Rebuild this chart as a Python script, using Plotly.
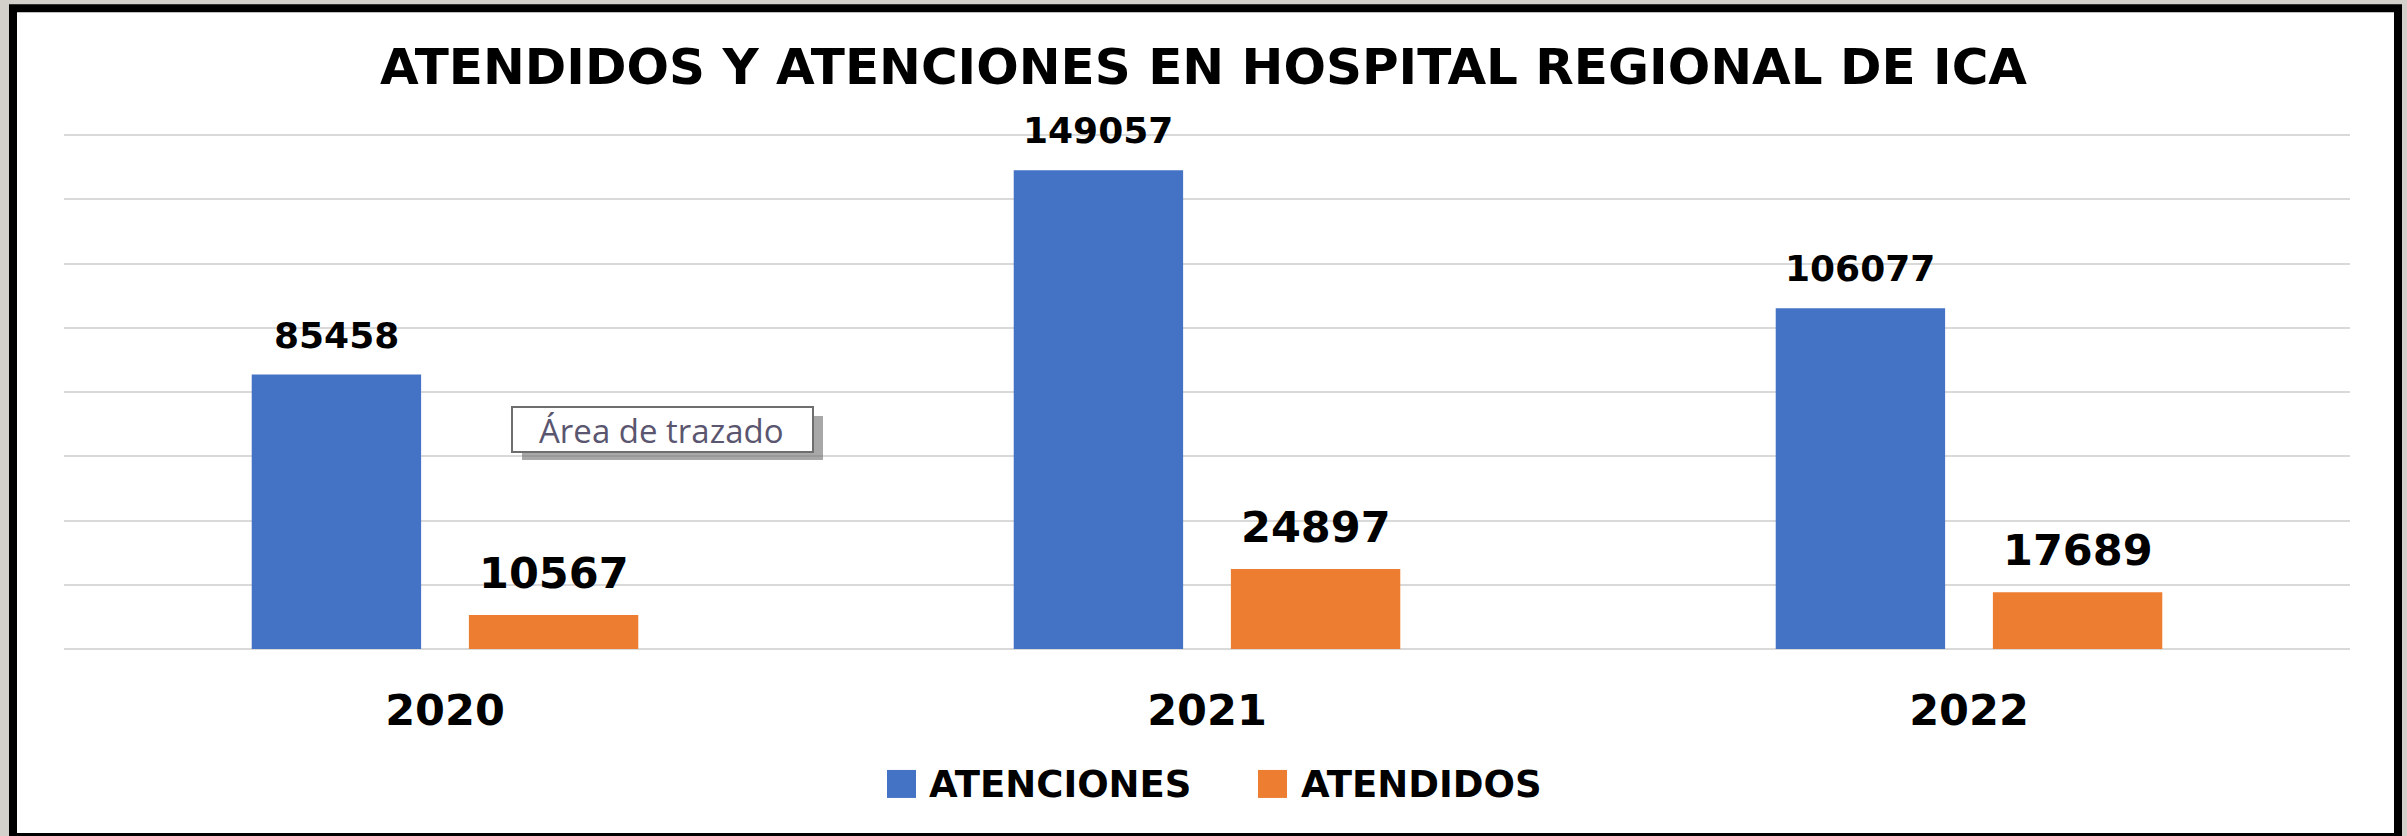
import plotly.graph_objects as go

# ---- data ----
years = ["2020", "2021", "2022"]
series_names = ["ATENCIONES", "ATENDIDOS"]
atenciones = [85458, 149057, 106077]
atendidos = [10567, 24897, 17689]
colors = ["#4472C4", "#ED7D31"]
title_text = "ATENDIDOS Y ATENCIONES EN HOSPITAL REGIONAL DE ICA"
tooltip_text = "Área de trazado"
y_max = 161000
y_step = 20000

W, H = 2407, 836
BASE = 649          # pixel row of the zero line
TOPGRID = 135       # pixel row of the 160000 gridline
PH = (BASE - TOPGRID) * y_max / 160000
ML, MR = 64, 57
MB = H - BASE
MT = H - MB - PH
PW = W - ML - MR


def px_x(p):
    return (p - ML) / PW


def px_y(p):
    return (H - MB - p) / PH


BARGAP = 0.43
BARGROUPGAP = 0.22
slot = (1 - BARGAP) / 2

fig = go.Figure()
values = [atenciones, atendidos]
for name, vals, col in zip(series_names, values, colors):
    fig.add_trace(go.Bar(x=years, y=vals, name=name, marker=dict(color=col, line=dict(width=0)),
                         showlegend=False, hoverinfo="skip"))

annotations = []
label_sizes = [36, 43]
label_shift = [17, 15]
for k, (vals, fs, ys) in enumerate(zip(values, label_sizes, label_shift)):
    off = (k - 0.5) * slot
    for i, v in enumerate(vals):
        annotations.append(dict(x=i + off, y=v, xref="x", yref="y", text=str(v), showarrow=False,
                                yanchor="bottom", xanchor="center", yshift=ys,
                                font=dict(family="DejaVu Sans", size=fs, color="#000000", weight="bold")))

shapes = []
# outer card with black frame
shapes.append(dict(type="rect", xref="paper", yref="paper",
                   x0=px_x(13), x1=px_x(2398), y0=px_y(837), y1=px_y(8),
                   line=dict(color="#000000", width=8), fillcolor="#ffffff", layer="below"))

# manual legend (large squares)
leg_sq = [(887, 916), (1258, 1287)]
leg_tx = [927, 1299]
for (a, b), tx, name, col in zip(leg_sq, leg_tx, series_names, colors):
    shapes.append(dict(type="rect", xref="paper", yref="paper", x0=px_x(a), x1=px_x(b),
                       y0=px_y(798), y1=px_y(770), fillcolor=col, line=dict(width=0)))
    annotations.append(dict(x=px_x(tx), y=px_y(785), xref="paper", yref="paper", text=name,
                            showarrow=False, xanchor="left", yanchor="middle",
                            font=dict(family="DejaVu Sans", size=37, color="#000000", weight="bold")))

# tooltip box "Área de trazado"
shapes.append(dict(type="rect", xref="paper", yref="paper", x0=px_x(522), x1=px_x(823),
                   y0=px_y(460), y1=px_y(416), fillcolor="rgba(110,110,110,0.6)",
                   line=dict(width=0), layer="above"))
shapes.append(dict(type="rect", xref="paper", yref="paper", x0=px_x(512), x1=px_x(813),
                   y0=px_y(452), y1=px_y(407), fillcolor="#ffffff",
                   line=dict(color="#6e6e6e", width=2), layer="above"))
annotations.append(dict(x=px_x(662), y=px_y(430), xref="paper", yref="paper", text=tooltip_text,
                        showarrow=False, xanchor="center", yanchor="middle",
                        font=dict(family="Open Sans", size=33, color="#5b5670")))

fig.update_layout(
    width=W, height=H,
    margin=dict(l=ML, r=MR, t=MT, b=MB, pad=0),
    paper_bgcolor="#d3d0cb",
    plot_bgcolor="rgba(0,0,0,0)",
    barmode="group", bargap=BARGAP, bargroupgap=BARGROUPGAP,
    title=dict(text=title_text, x=px_x(1207), xanchor="center", y=1 - 66 / H, yanchor="middle",
               font=dict(family="DejaVu Sans", size=50, color="#000000", weight="bold")),
    showlegend=False,
    shapes=shapes,
    annotations=annotations,
    xaxis=dict(showgrid=False, showline=False, ticks="outside", ticklen=23, tickcolor="rgba(0,0,0,0)",
               tickfont=dict(family="DejaVu Sans", size=43, color="#000000", weight="bold"),
               fixedrange=True),
    yaxis=dict(range=[0, y_max], dtick=y_step, showticklabels=False, showgrid=True,
               gridcolor="#d9d9d9", gridwidth=2, zeroline=True, zerolinecolor="#d9d9d9",
               zerolinewidth=2, showline=False, fixedrange=True),
)

fig.write_html("out.html",
               config={"displayModeBar": False},
               post_script="document.body.style.margin='0';document.body.style.background='#d3d0cb';")
